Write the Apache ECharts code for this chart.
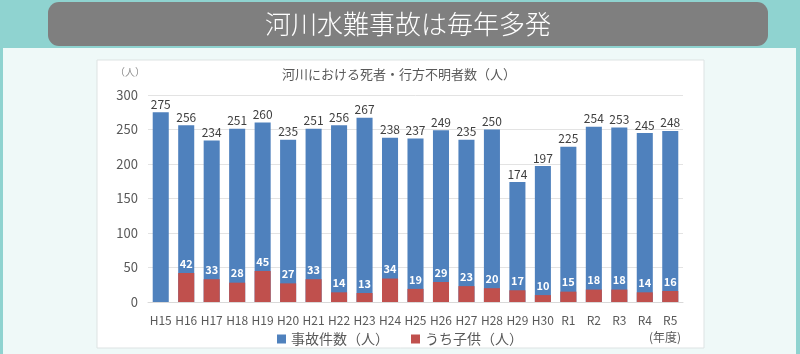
<!DOCTYPE html>
<html>
<head>
<meta charset="utf-8">
<script src="https://cdn.jsdelivr.net/npm/echarts@6/dist/echarts.min.js"></script>
<style>
  html, body { margin: 0; padding: 0; background: #8fd3d0; }
  #main { width: 800px; height: 354px; }
</style>
</head>
<body>
<div id="main"></div>
<script>
// 年度
const years = ['H15','H16','H17','H18','H19','H20','H21','H22','H23','H24','H25',
  'H26','H27','H28','H29','H30','R1','R2','R3','R4','R5']
// 事故件数（人）
const totals = [275,256,234,251,260,235,251,256,267,238,237,249,235,250,174,197,225,254,253,245,248]
// うち子供（人） H15 は記載なし
const kids = [null,42,33,28,45,27,33,14,13,34,19,29,23,20,17,10,15,18,18,14,16]
const yTicks = [0, 50, 100, 150, 200, 250, 300]

const font = '"Noto Sans CJK JP", "Noto Sans", sans-serif'
const chart = echarts.init(document.getElementById('main'))

chart.setOption({
  animation: false,
  textStyle: { fontFamily: font },
  graphic: [
    { type: 'rect', z: -10, shape: { x: 3, y: 48, width: 793, height: 306 }, style: { fill: '#eff9f8' } },
    { type: 'rect', z: -9, shape: { x: 48, y: 2, width: 720, height: 44, r: 11 }, style: { fill: '#7f7f7f' } },
    { type: 'text', z: 10, x: 408, y: 24,
      style: { text: '河川水難事故は毎年多発', fill: '#fff', font: '300 26px ' + font, textAlign: 'center', textVerticalAlign: 'middle' } },
    { type: 'rect', z: -8, shape: { x: 97, y: 60, width: 607, height: 288 }, style: { fill: '#fff', stroke: '#dde3e3', lineWidth: 1 } },
    { type: 'text', x: 130, y: 72,
      style: { text: '（人）', fill: '#8c8c8c', font: '10px ' + font, textAlign: 'center', textVerticalAlign: 'middle' } },
    { type: 'text', x: 665, y: 337,
      style: { text: '(年度)', fill: '#595959', font: '12px ' + font, textAlign: 'center', textVerticalAlign: 'middle' } }
  ],
  title: {
    text: '河川における死者・行方不明者数（人）',
    left: 394, top: 63, textAlign: 'center',
    textStyle: { fontSize: 13, fontWeight: 'normal', color: '#595959', fontFamily: font }
  },
  legend: {
    left: 'center', top: 327,
    icon: 'rect', itemWidth: 9, itemHeight: 9, itemGap: 22,
    textStyle: { fontSize: 14, color: '#595959', fontFamily: font },
    data: ['事故件数（人）', 'うち子供（人）']
  },
  grid: { left: 148, right: 117, top: 95, bottom: 52 },
  xAxis: {
    type: 'category',
    data: years,
    axisLine: { lineStyle: { color: '#d9d9d9' } },
    axisTick: { show: false },
    axisLabel: { color: '#595959', fontSize: 12, margin: 12, interval: 0 }
  },
  yAxis: {
    type: 'value',
    min: yTicks[0], max: yTicks[yTicks.length - 1], interval: 50,
    axisLine: { show: false },
    axisTick: { show: false },
    splitLine: { lineStyle: { color: '#e3e3e3' } },
    axisLabel: { color: '#595959', fontSize: 13, margin: 10 }
  },
  series: [
    {
      name: '事故件数（人）',
      type: 'bar',
      data: totals,
      barCategoryGap: '37%',
      itemStyle: { color: '#4f81bd' },
      label: { show: true, position: 'top', distance: 2, color: '#404040', fontSize: 12, fontFamily: font }
    },
    {
      name: 'うち子供（人）',
      type: 'bar',
      data: kids,
      barGap: '-100%',
      itemStyle: { color: '#c0504d' },
      label: { show: true, position: 'top', distance: 4, color: '#fff', fontSize: 11, fontWeight: 'bold', fontFamily: font }
    }
  ]
})
</script>
</body>
</html>
